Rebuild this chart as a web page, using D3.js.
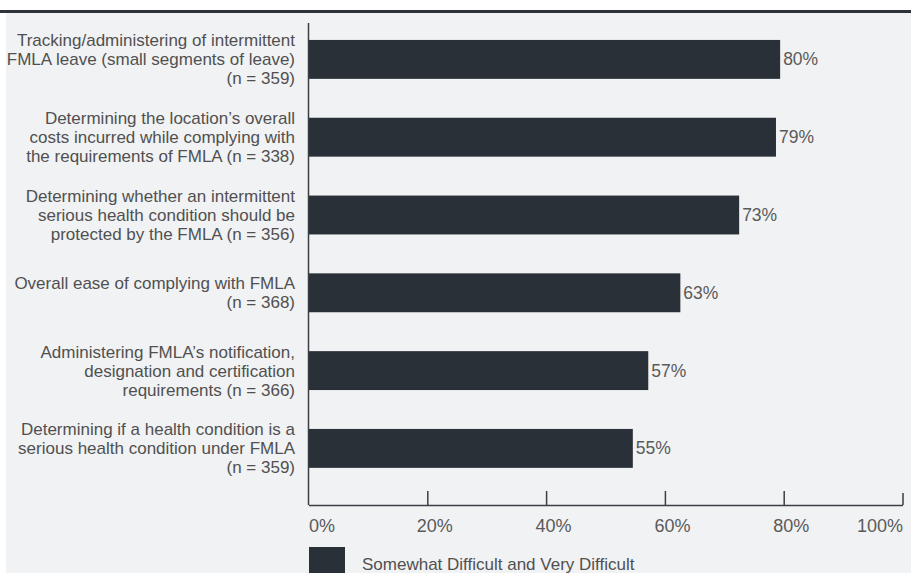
<!DOCTYPE html>
<html>
<head>
<meta charset="utf-8">
<script src="https://cdn.jsdelivr.net/npm/d3@7"></script>
<style>
  body { margin: 0; background: #fff; }
  text { font-family: "Liberation Sans", Arial, sans-serif; }
</style>
</head>
<body>
<div id="chart-area"></div>
<script>
// categories (label lines), values (bar length in %), shown labels
var categories = [
    ["Tracking/administering of intermittent", "FMLA leave (small segments of leave)", "(n = 359)"],
    ["Determining the location\u2019s overall", "costs incurred while complying with", "the requirements of FMLA (n = 338)"],
    ["Determining whether an intermittent", "serious health condition should be", "protected by the FMLA (n = 356)"],
    ["Overall ease of complying with FMLA", "(n = 368)"],
    ["Administering FMLA\u2019s notification,", "designation and certification", "requirements (n = 366)"],
    ["Determining if a health condition is a", "serious health condition under FMLA", "(n = 359)"]
];
var values = [79.4, 78.7, 72.5, 62.6, 57.2, 54.6];
var valueLabels = ["80%", "79%", "73%", "63%", "57%", "55%"];
var tickValues = [0, 20, 40, 60, 80, 100];
var seriesName = "Somewhat Difficult and Very Difficult";

var W = 911, H = 573;
var barColor = "#2a3038", textColor = "#505050";

var svg = d3.select("#chart-area").append("svg")
    .attr("width", W)
    .attr("height", H);

// background panel and top rule
svg.append("rect").attr("x", 6).attr("y", 10).attr("width", W - 6).attr("height", H - 10).attr("fill", "#f1f2f4");
svg.append("rect").attr("x", 0).attr("y", 10).attr("width", W).attr("height", 3).attr("fill", "#2e3339");

var x = d3.scaleLinear().domain([0, 100]).range([308.5, 902.5]);
var y = d3.scaleBand()
    .domain(d3.range(categories.length))
    .range([20.5, 487.3])
    .paddingInner(0.5)
    .paddingOuter(0.25);

var axisY = 505;

// bars
svg.selectAll(".bar")
    .data(values)
    .enter().append("rect")
    .attr("class", "bar")
    .attr("x", x(0))
    .attr("y", function(d, i) { return y(i); })
    .attr("width", function(d) { return x(d) - x(0); })
    .attr("height", y.bandwidth())
    .attr("fill", barColor);

// value labels
svg.selectAll(".val")
    .data(values)
    .enter().append("text")
    .attr("class", "val")
    .attr("x", function(d) { return x(d) + 3; })
    .attr("y", function(d, i) { return y(i) + y.bandwidth() / 2 + 6; })
    .attr("font-size", 17.5)
    .attr("fill", "#5a5a5a")
    .text(function(d, i) { return valueLabels[i]; });

// category labels
var cat = svg.selectAll(".cat")
    .data(categories)
    .enter().append("text")
    .attr("class", "cat")
    .attr("text-anchor", "end")
    .attr("font-size", 17)
    .attr("fill", textColor);

cat.each(function(lines, i) {
    var cy = y(i) + y.bandwidth() / 2;
    var n = lines.length;
    d3.select(this).selectAll("tspan")
        .data(lines)
        .enter().append("tspan")
        .attr("x", 295)
        .attr("y", function(d, j) { return cy + 6 + (j - (n - 1) / 2) * 19; })
        .text(function(d) { return d; });
});

// vertical axis line
svg.append("line")
    .attr("x1", x(0)).attr("x2", x(0))
    .attr("y1", 23).attr("y2", axisY)
    .attr("stroke", "#3a3f45").attr("stroke-width", 1.5);

// x axis
var xAxis = svg.append("g")
    .attr("transform", "translate(0," + axisY + ")")
    .call(d3.axisBottom(x)
        .tickValues(tickValues)
        .tickSizeInner(-14)
        .tickSizeOuter(0)
        .tickPadding(0)
        .tickFormat(function(d) { return d + "%"; }));

xAxis.select(".domain").attr("stroke", "#3a3f45").attr("stroke-width", 1.5);
xAxis.selectAll(".tick line")
    .attr("stroke", "#3a3f45").attr("stroke-width", 1.5)
    .attr("y2", function(d) { return d === 100 ? -12 : -14; })
    .attr("display", function(d) { return d === 0 ? "none" : null; });
xAxis.selectAll(".tick text")
    .attr("y", 26.5)
    .attr("dy", 0)
    .attr("font-size", 18)
    .attr("font-family", null)
    .attr("fill", "#5a5a5a")
    .attr("text-anchor", function(d) { return d === 0 ? "start" : d === 100 ? "end" : "middle"; })
    .attr("dx", function(d) { return d === 0 || d === 100 ? 0 : 7; });

// legend
svg.append("rect")
    .attr("x", 309).attr("y", 547)
    .attr("width", 36).attr("height", 30)
    .attr("fill", barColor);
svg.append("text")
    .attr("x", 362).attr("y", 569.5)
    .attr("font-size", 17)
    .attr("fill", textColor)
    .text(seriesName);
</script>
</body>
</html>
